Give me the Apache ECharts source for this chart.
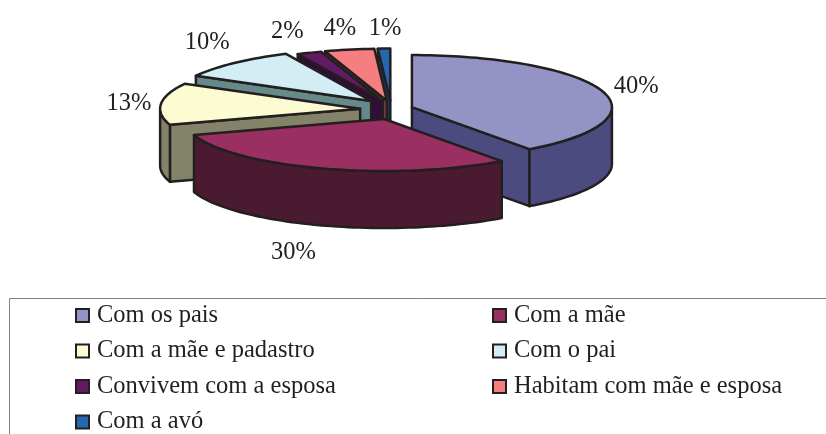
<!DOCTYPE html>
<html>
<head>
<meta charset="utf-8">
<style>html,body{margin:0;padding:0;background:#fff}#c{width:826px;height:434px}</style>
<script src="https://cdn.jsdelivr.net/npm/echarts@6/dist/echarts.min.js"></script>
</head>
<body>
<div id="c"></div>
<script>
// Data
const categories = ['Com os pais','Com a mãe','Com a mãe e padastro','Com o pai','Convivem com a esposa','Habitam com mãe e esposa','Com a avó'];
const percentValues = [40,30,13,10,2,4,1];

// Style
const topColors  = ['#9493c6','#9a2f62','#fdfbd2','#d2edf4','#631a66','#f67d80','#2367b0'];
const wallColors = ['#4c4b80','#4a1a30','#83836a','#668a8a','#330d38','#804040','#14406e'];
const inkColor = '#231f20';

// Layout of the tilted pie
const pieCenter = [391, 110];
const radiusX = 200, radiusY = 52, depth = 57, explodeTilt = 0.43;
const explodeBy = [22,22,31,29,22,22,22];
const labelShift = [[34,-5],[-29,83],[-32,-1],[-27,-21],[-22,-22],[-9.5,-22.5],[1,-21.5]];
const drawRank = [5,6,4,3,2,1,0];

const total = percentValues.reduce((a,b)=>a+b,0);
const startShare = [];
percentValues.reduce((sum,v,i)=>{startShare[i]=sum;return sum+v;},0);

function renderSlice(i, params, api){
  const value = api.value(0);
  const a0 = startShare[i]/total*2*Math.PI, a1 = a0 + value/total*2*Math.PI, mid=(a0+a1)/2;
  const cx = pieCenter[0] + explodeBy[i]*Math.sin(mid);
  const cy = pieCenter[1] - explodeBy[i]*explodeTilt*Math.cos(mid);
  const rim = a => [cx+radiusX*Math.sin(a), cy-radiusY*Math.cos(a)];
  const down = p => [p[0], p[1]+depth];
  const arc = (from,to) => {
    const n = Math.max(2, Math.ceil((to-from)/0.03)), pts=[];
    for(let k=0;k<=n;k++) pts.push(rim(from+(to-from)*k/n));
    return pts;
  };
  const line = {stroke:inkColor, lineWidth:2.5, lineJoin:'round'};
  const poly = (points,fill) => ({type:'polygon',shape:{points},style:Object.assign({fill},line)});
  const children = [];
  const apex = [cx,cy];
  // side walls that face the viewer
  if(Math.sin(a0) < -1e-6) children.push(poly([apex,rim(a0),down(rim(a0)),down(apex)], wallColors[i]));
  if(Math.sin(a1) > 1e-6) children.push(poly([apex,rim(a1),down(rim(a1)),down(apex)], wallColors[i]));
  const f0 = Math.max(a0, Math.PI/2), f1 = Math.min(a1, 1.5*Math.PI);
  if(f1>f0){
    const top = arc(f0,f1);
    children.push(poly(top.concat(top.map(down).reverse()), wallColors[i]));
  }
  children.push(poly([apex].concat(arc(a0,a1)), topColors[i]));
  const anchor = rim(mid);
  children.push({type:'text',style:{
    x:anchor[0]+labelShift[i][0], y:anchor[1]+labelShift[i][1]+1,
    text:value+'%', fill:inkColor, font:'24.5px "Liberation Serif"', align:'center', verticalAlign:'middle'
  }});
  return {type:'group',children};
}

const series = categories.map((name,i)=>({
  type:'custom', name, coordinateSystem:'none', silent:true, animation:false,
  z:2+drawRank[i], itemStyle:{color:topColors[i]},
  data:[[percentValues[i]]],
  renderItem:(p,api)=>renderSlice(i,p,api)
}));

const legendBase = {
  orient:'vertical', top:303, height:200, padding:0, itemWidth:13, itemHeight:13, itemGap:10.5, icon:'rect',
  selectedMode:false, itemStyle:{borderColor:inkColor,borderWidth:2},
  textStyle:{color:inkColor,fontFamily:'"Liberation Serif"',fontSize:24.5,lineHeight:22,padding:[0,0,0,3]}
};

const chart = echarts.init(document.getElementById('c'),null,{renderer:'canvas'});
chart.setOption({
  backgroundColor:'#fff', animation:false,
  graphic:[{type:'rect',silent:true,z:0,shape:{x:9.5,y:298.5,width:900,height:300},style:{fill:'none',stroke:'#7f7f7f',lineWidth:1}}],
  legend:[
    Object.assign({},legendBase,{left:75,data:categories.filter((c,i)=>i%2===0)}),
    Object.assign({},legendBase,{left:492,data:categories.filter((c,i)=>i%2===1)})
  ],
  series
});
</script>
</body>
</html>
